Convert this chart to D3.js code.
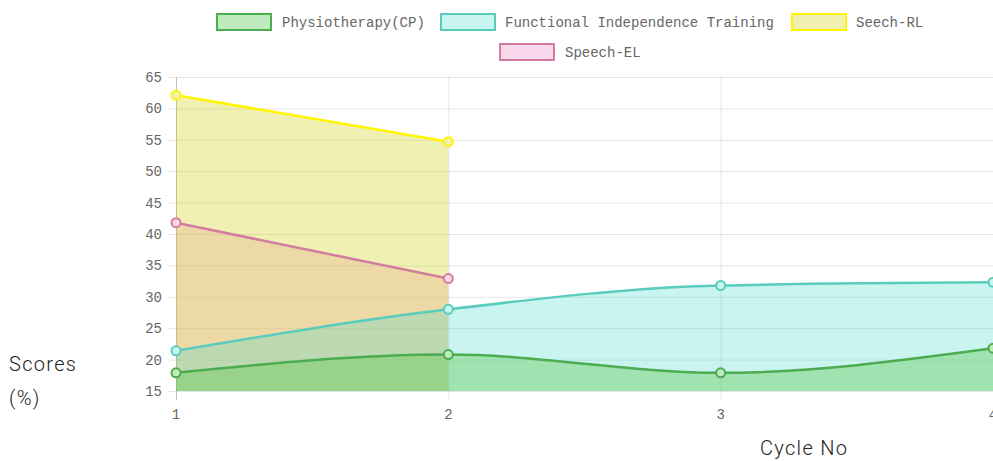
<!DOCTYPE html>
<html><head><meta charset="utf-8">
<script src="https://cdn.jsdelivr.net/npm/d3@7"></script>
<style>
html,body{margin:0;padding:0;background:#fff;overflow:hidden;}
svg{display:block;}
</style></head>
<body>
<svg id="chart" width="993" height="461"></svg>
<script>
const cycles = [1, 2, 3, 4];
const physio = [17.9, 20.8, 17.9, 21.8];
const fit = [21.4, 28.0, 31.8, 32.3];
const seechRL = [62.1, 54.7];
const speechEL = [41.8, 32.9];
const yTicks = [15, 20, 25, 30, 35, 40, 45, 50, 55, 60, 65];
const seriesNames = ["Physiotherapy(CP)", "Functional Independence Training", "Seech-RL", "Speech-EL"];

const series = [
  {name: seriesNames[0], values: physio, stroke: "rgb(76,172,80)", fill: "rgba(100,202,80,0.4)", pt: "rgb(190,234,190)"},
  {name: seriesNames[1], values: fit, stroke: "rgb(90,204,190)", fill: "rgba(75,220,205,0.3)", pt: "rgb(200,245,240)"},
  {name: seriesNames[2], values: seechRL, stroke: "rgb(255,245,0)", fill: "rgba(204,204,0,0.3)", pt: "rgb(240,240,178)"},
  {name: seriesNames[3], values: speechEL, stroke: "rgb(210,125,160)", fill: "rgba(240,150,200,0.3)", pt: "rgb(248,215,235)"}
];

const svg = d3.select("#chart");
const x = d3.scaleLinear().domain([1, 4]).range([176, 993]);
const y = d3.scaleLinear().domain([15, 65]).range([391, 77]);
const monoFont = "'Liberation Mono', 'DejaVu Sans Mono', monospace";

// grid
const grid = svg.append("g");
grid.selectAll("line.h").data(yTicks).join("line")
  .attr("x1", 168).attr("x2", 993)
  .attr("y1", d => y(d) + 0.5).attr("y2", d => y(d) + 0.5)
  .attr("stroke", "rgba(0,0,0,0.1)").attr("stroke-width", 1);
grid.selectAll("line.v").data(cycles).join("line")
  .attr("x1", d => x(d) + 0.5).attr("x2", d => x(d) + 0.5)
  .attr("y1", 77).attr("y2", 400)
  .attr("stroke", (d, i) => i === 0 ? "rgba(0,0,0,0.25)" : "rgba(0,0,0,0.1)").attr("stroke-width", 1);

// y tick labels
svg.append("g").selectAll("text").data(yTicks).join("text")
  .attr("x", 162).attr("y", d => y(d)).attr("dy", "0.35em")
  .attr("text-anchor", "end").attr("font-family", monoFont).attr("font-size", 14)
  .attr("fill", "#666").text(d => d);
// x tick labels
svg.append("g").selectAll("text").data(cycles).join("text")
  .attr("x", d => x(d)).attr("y", 414).attr("dy", "0.35em")
  .attr("text-anchor", "middle").attr("font-family", monoFont).attr("font-size", 14)
  .attr("fill", "#666").text(d => d);

// areas (draw last dataset first)
const area = d3.area().x((d, i) => x(cycles[i])).y0(y(15)).y1(d => y(d)).curve(d3.curveMonotoneX);
const line = d3.line().x((d, i) => x(cycles[i])).y(d => y(d)).curve(d3.curveMonotoneX);
const drawOrder = series.slice().reverse();
drawOrder.forEach(s => {
  const g = svg.append("g");
  g.append("path").attr("d", area(s.values)).attr("fill", s.fill);
});
drawOrder.forEach(s => {
  const g = svg.append("g");
  g.append("path").attr("d", line(s.values)).attr("fill", "none")
    .attr("stroke", s.stroke).attr("stroke-width", 2.5);
  g.selectAll("circle").data(s.values).join("circle")
    .attr("cx", (d, i) => x(cycles[i])).attr("cy", d => y(d)).attr("r", 4.5)
    .attr("fill", s.pt).attr("stroke", s.stroke).attr("stroke-width", 2);
});

// legend
const legendPos = [
  {bx: 216, by: 13, tx: 282},
  {bx: 440, by: 13, tx: 505},
  {bx: 791, by: 13, tx: 856},
  {bx: 499, by: 43, tx: 565}
];
series.forEach((s, i) => {
  const p = legendPos[i];
  svg.append("rect").attr("x", p.bx + 1).attr("y", p.by + 1).attr("width", 54).attr("height", 16)
    .attr("fill", s.pt).attr("stroke", s.stroke).attr("stroke-width", 2);
  svg.append("text").attr("x", p.tx).attr("y", p.by + 9).attr("dy", "0.35em")
    .attr("font-family", monoFont).attr("font-size", 14).attr("fill", "#666").text(s.name);
});

// axis titles
const titleFont = "Roboto, 'Noto Sans', sans-serif";
function title(tx, ty, t) {
  svg.append("text").attr("x", tx).attr("y", ty).attr("font-family", titleFont).attr("font-size", 20)
    .attr("font-weight", 300).attr("letter-spacing", 1.3).attr("fill", "#222").text(t);
}
title(9, 371, "Scores");
title(9, 405, "(%)");
title(760, 455, "Cycle No");
</script>
</body></html>
